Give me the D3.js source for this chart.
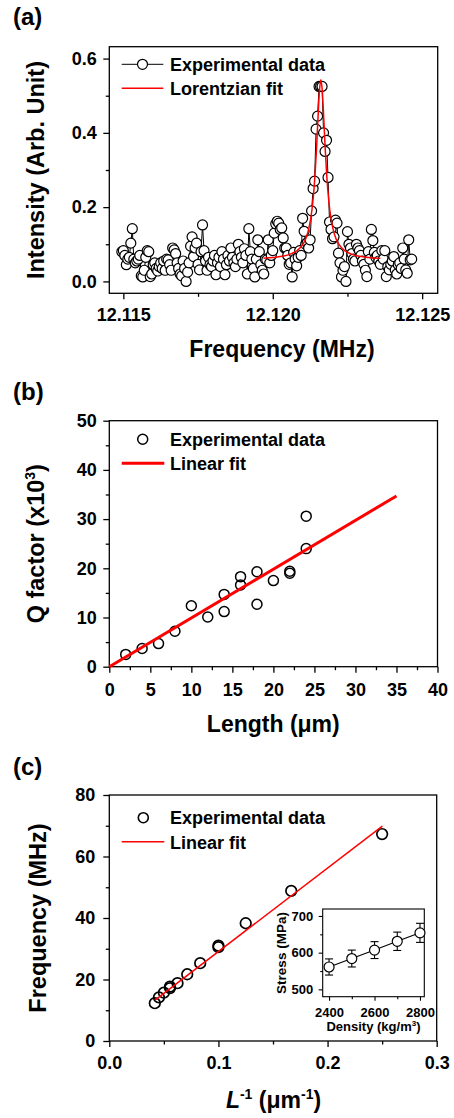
<!DOCTYPE html>
<html><head><meta charset="utf-8">
<script src="https://cdn.jsdelivr.net/npm/d3@7"></script>
<style>
body{margin:0;background:#fff}
text{font-family:"Liberation Sans",Arial,Helvetica,sans-serif;font-weight:bold}
</style>
</head><body>
<svg id="chart" width="454" height="1118"></svg>
<script>
// ---------- Panel (a) data ----------
const freqA = [
12.11495,12.11500,12.11505,12.11510,12.11515,12.11520,12.11525,12.11530,12.11535,12.11540,
12.11545,12.11550,12.11555,12.11560,12.11565,12.11570,12.11575,12.11580,12.11585,12.11590,
12.11595,12.11600,12.11605,12.11610,12.11615,12.11620,12.11625,12.11630,12.11635,12.11640,
12.11645,12.11650,12.11655,12.11660,12.11665,12.11670,12.11675,12.11680,12.11685,12.11690,
12.11695,12.11700,12.11705,12.11710,12.11715,12.11720,12.11725,12.11730,12.11735,12.11740,
12.11745,12.11750,12.11755,12.11760,12.11765,12.11770,12.11775,12.11780,12.11785,12.11790,
12.11795,12.11800,12.11805,12.11810,12.11815,12.11820,12.11825,12.11830,12.11835,12.11840,
12.11845,12.11850,12.11855,12.11860,12.11865,12.11870,12.11875,12.11880,12.11885,12.11890,
12.11895,12.11900,12.11905,12.11910,12.11915,12.11920,12.11925,12.11930,12.11935,12.11940,
12.11945,12.11950,12.11955,12.11960,12.11965,12.11970,12.11975,12.11980,12.11985,12.11990,
12.11995,12.12000,12.12005,12.12010,12.12015,12.12020,12.12025,12.12030,12.12035,12.12040,
12.12045,12.12050,12.12055,12.12060,12.12065,12.12070,12.12075,12.12080,12.12085,12.12090,
12.12095,12.12100,12.12105,12.12110,12.12115,12.12120,12.12125,12.12130,12.12135,12.12140,
12.12145,12.12150,12.12155,12.12160,12.12165,12.12170,12.12175,12.12180,12.12185,12.12190,
12.12195,12.12200,12.12205,12.12210,12.12215,12.12220,12.12225,12.12230,12.12235,12.12240,
12.12245,12.12250,12.12255,12.12260,12.12265,12.12270,12.12275,12.12280,12.12285,12.12290,
12.12295,12.12300,12.12305,12.12310,12.12315,12.12320,12.12325,12.12330,12.12335,12.12340,
12.12345,12.12350,12.12355,12.12360,12.12365,12.12370,12.12375,12.12380,12.12385,12.12390,
12.12395,12.12400,12.12405,12.12410,12.12415,12.12420,12.12425,12.12430,12.12435,12.12440,
12.12445,12.12450,12.12455,12.12460,12.12465];
const intensityA = [
0.080,0.083,0.070,0.045,0.060,0.065,0.103,0.142,0.060,0.050,
0.055,0.060,0.070,0.015,0.012,0.030,0.065,0.083,0.080,0.013,
0.020,0.045,0.050,0.035,0.028,0.040,0.050,0.035,0.055,0.030,
0.060,0.058,0.045,0.030,0.090,0.085,0.075,0.050,0.035,0.020,
0.015,0.055,0.035,0.000,0.025,0.050,0.095,0.120,0.067,0.090,
0.103,0.046,0.031,0.080,0.152,0.083,0.055,0.030,0.065,0.045,
0.040,0.055,0.070,0.018,0.050,0.065,0.040,0.080,0.060,0.018,
0.045,0.070,0.055,0.090,0.065,0.050,0.040,0.060,0.100,0.080,
0.065,0.050,0.088,0.070,0.020,0.142,0.080,0.060,0.035,0.012,
0.060,0.112,0.080,0.045,0.030,0.020,0.060,0.058,0.112,0.050,
0.070,0.083,0.130,0.155,0.162,0.157,0.140,0.144,0.117,0.090,
0.090,0.070,0.046,0.050,0.012,0.078,0.060,0.042,0.065,0.083,
0.070,0.170,0.135,0.100,0.104,0.090,0.112,0.190,0.250,0.270,
0.410,0.445,0.525,0.525,0.525,0.400,0.350,0.380,0.280,0.160,
0.140,0.115,0.120,0.165,0.157,0.076,0.050,0.012,0.030,0.040,
0.000,0.134,0.100,0.090,0.075,0.060,0.055,0.100,0.090,0.083,
0.070,0.055,0.046,0.030,0.013,0.080,0.060,0.140,0.110,0.078,
0.065,0.070,0.055,0.046,0.083,0.060,0.083,0.013,0.040,0.031,
0.046,0.055,0.067,0.031,0.020,0.045,0.050,0.035,0.090,0.060,
0.031,0.022,0.112,0.058,0.060];
const fitFreqA = [12.11969,12.12001,12.12031,12.12061,12.12081,12.12101,12.12111,12.12121,12.12131,12.12136,
  12.12141,12.12146,12.12151,12.12156,12.12161,12.12166,12.12171,12.12176,12.12181,12.12186,
  12.12191,12.12201,12.12211,12.12221,12.12241,12.12261,12.12291,12.12321,12.12360];
const fitIntA = [0.0625,0.0644,0.0676,0.0741,0.0826,0.1001,0.1164,0.1435,0.1916,0.2296,
  0.2816,0.3507,0.4334,0.510,0.543,0.510,0.4334,0.3507,0.2816,0.2296,
  0.1916,0.1435,0.1164,0.1001,0.0826,0.0741,0.0676,0.0644,0.0622];
const xTicksA = [12.115,12.120,12.125], xMinorA = [12.1175,12.1225];
const yTicksA = [0,0.2,0.4,0.6], yMinorA = [0.1,0.3,0.5];

// ---------- Panel (b) data ----------
const lengthB = [2,4,6,8,10,12,14,14,16,16,18,18,20,22,22,24,24];
const qB = [2.5,3.7,4.7,7.2,12.4,10.1,14.7,11.2,16.6,18.3,19.3,12.7,17.5,19.0,19.4,30.6,24.0];
const fitLenB = [0,35], fitQB = [0,34.7];
const xTicksB = [0,5,10,15,20,25,30,35,40], xMinorB = [2.5,7.5,12.5,17.5,22.5,27.5,32.5,37.5];
const yTicksB = [0,10,20,30,40,50], yMinorB = [5,15,25,35,45];

// ---------- Panel (c) data ----------
const invLC = [0.0417,0.0455,0.05,0.0556,0.0556,0.0625,0.0714,0.0833,0.1,0.1,0.125,0.1667,0.25];
const freqC = [12.3,14.2,15.7,17.2,17.7,18.8,21.7,25.3,30.5,31.0,38.3,48.8,67.3];
const fitInvLC = [0.0419,0.2502], fitFreqC = [13.3,69.9];
const xTicksC = [0,0.1,0.2,0.3], xMinorC = [0.05,0.15,0.25];
const yTicksC = [0,20,40,60,80], yMinorC = [10,30,50,70];

// ---------- Inset data ----------
const densityI = [2400,2500,2600,2700,2800];
const stressI = [561,584,607,631,654];
const errI = [22,23,23,25,26];
const xTicksI = [2400,2600,2800], xMinorI = [2500,2700];
const yTicksI = [500,600,700], yMinorI = [550,650];

// ---------- drawing ----------
const svg = d3.select("#chart");
svg.append("rect").attr("width",454).attr("height",1118).attr("fill","#fff");

function drawAxes(x, y, o) {
  const [xa, xb] = x.range(), [ya, yb] = y.range();
  const g = svg.append("g");
  const st = s => {
    s.select(".domain").remove();
    s.attr("font-family", null).attr("font-size", null);
    s.selectAll("line").attr("stroke", "#000").attr("stroke-width", o.sw);
    s.selectAll("text").attr("fill", "#000").attr("font-size", o.fs);
  };
  g.append("g").attr("transform", `translate(0,${ya})`)
    .call(d3.axisBottom(x).tickValues(o.xt).tickSize(o.tl).tickPadding(o.xp).tickFormat(o.xf)).call(st);
  g.append("g").attr("transform", `translate(0,${ya})`)
    .call(d3.axisBottom(x).tickValues(o.xm).tickSize(o.tm).tickFormat("")).call(st);
  g.append("g").attr("transform", `translate(${xa},0)`)
    .call(d3.axisLeft(y).tickValues(o.yt).tickSize(o.tl).tickPadding(o.yp).tickFormat(o.yf)).call(st);
  g.append("g").attr("transform", `translate(${xa},0)`)
    .call(d3.axisLeft(y).tickValues(o.ym).tickSize(o.tm).tickFormat("")).call(st);
  g.append("rect").attr("x", xa).attr("y", yb).attr("width", xb - xa).attr("height", ya - yb)
    .attr("fill", "none").attr("stroke", "#000").attr("stroke-width", o.sw);
}
function label(txt, x, y, size, opts = {}) {
  return svg.append("text").attr("x", x).attr("y", y).attr("font-size", size)
    .attr("text-anchor", opts.anchor || "start").attr("fill", "#000").text(txt);
}
function yTitle(x, y, size) {
  return svg.append("text").attr("transform", `translate(${x},${y}) rotate(-90)`)
    .attr("text-anchor", "middle").attr("font-size", size).attr("fill", "#000");
}

// ===== Panel (a) =====
const xA = d3.scaleLinear().domain([12.11453, 12.12552]).range([109.3, 437.7]);
const yA = d3.scaleLinear().domain([-0.032, 0.632]).range([293.3, 46.7]);
drawAxes(xA, yA, {xt: xTicksA, xm: xMinorA, yt: yTicksA, ym: yMinorA, tl: 6, tm: 3.5, sw: 1.3,
  xp: 8.5, yp: 6.5, fs: 18, xf: d3.format(".3f"), yf: d3.format(".1f")});
const ptsA = freqA.map((f, i) => [f, intensityA[i]]);
svg.append("path").datum(ptsA).attr("fill", "none").attr("stroke", "#000").attr("stroke-width", 1)
  .attr("d", d3.line().x(d => xA(d[0])).y(d => yA(d[1])));
svg.append("g").selectAll("circle").data(ptsA).join("circle")
  .attr("cx", d => xA(d[0])).attr("cy", d => yA(d[1])).attr("r", 5)
  .attr("fill", "#fff").attr("stroke", "#000").attr("stroke-width", 1.2);
svg.append("path").datum(fitFreqA.map((f, i) => [f, fitIntA[i]])).attr("fill", "none")
  .attr("stroke", "#ff0000").attr("stroke-width", 1.5)
  .attr("d", d3.line().curve(d3.curveMonotoneX).x(d => xA(d[0])).y(d => yA(d[1])));
// legend a
svg.append("line").attr("x1", 121.7).attr("x2", 163.3).attr("y1", 64.3).attr("y2", 64.3).attr("stroke", "#000").attr("stroke-width", 1);
svg.append("circle").attr("cx", 142.5).attr("cy", 64.3).attr("r", 5).attr("fill", "#fff").attr("stroke", "#000").attr("stroke-width", 1.2);
label("Experimental data", 170, 70.7, 18);
svg.append("line").attr("x1", 121.7).attr("x2", 163.3).attr("y1", 88.3).attr("y2", 88.3).attr("stroke", "#ff0000").attr("stroke-width", 1.5);
label("Lorentzian fit", 170, 95, 18);
label("(a)", 13, 25, 24);
label("Frequency (MHz)", 282, 357.3, 23, {anchor: "middle"});
yTitle(44, 170, 23.5).text("Intensity (Arb. Unit)");

// ===== Panel (b) =====
const xB = d3.scaleLinear().domain([0, 40]).range([109.3, 437.5]);
const yB = d3.scaleLinear().domain([0, 50]).range([666.7, 420.7]);
drawAxes(xB, yB, {xt: xTicksB, xm: xMinorB, yt: yTicksB, ym: yMinorB, tl: 6, tm: 3.5, sw: 1.3,
  xp: 10.5, yp: 6.5, fs: 18, xf: d3.format("d"), yf: d3.format("d")});
svg.append("g").selectAll("circle").data(lengthB.map((l, i) => [l, qB[i]])).join("circle")
  .attr("cx", d => xB(d[0])).attr("cy", d => yB(d[1])).attr("r", 5)
  .attr("fill", "none").attr("stroke", "#000").attr("stroke-width", 1.5);
svg.append("path").datum(fitLenB.map((l, i) => [l, fitQB[i]])).attr("fill", "none")
  .attr("stroke", "#ff0000").attr("stroke-width", 3)
  .attr("d", d3.line().x(d => xB(d[0])).y(d => yB(d[1])));
svg.append("circle").attr("cx", 142.7).attr("cy", 439.3).attr("r", 5).attr("fill", "none").attr("stroke", "#000").attr("stroke-width", 1.5);
label("Experimental data", 170, 446, 18);
svg.append("line").attr("x1", 121.7).attr("x2", 164.3).attr("y1", 463.3).attr("y2", 463.3).attr("stroke", "#ff0000").attr("stroke-width", 3);
label("Linear fit", 170, 470, 18);
label("(b)", 13, 400, 24);
label("Length (\u03bcm)", 273.3, 732, 23, {anchor: "middle"});
{
  const t = yTitle(44, 543.7, 23.5);
  t.append("tspan").text("Q factor (x10");
  t.append("tspan").attr("font-size", 14).attr("dy", -9).text("3");
  t.append("tspan").attr("dy", 9).text(")");
}

// ===== Panel (c) =====
const xC = d3.scaleLinear().domain([0, 0.3]).range([109.3, 436.7]);
const yC = d3.scaleLinear().domain([0, 80]).range([1041, 795]);
drawAxes(xC, yC, {xt: xTicksC, xm: xMinorC, yt: yTicksC, ym: yMinorC, tl: 6, tm: 3.5, sw: 1.3,
  xp: 9.5, yp: 8, fs: 18, xf: d3.format(".1f"), yf: d3.format("d")});
svg.append("g").selectAll("circle").data(invLC.map((v, i) => [v, freqC[i]])).join("circle")
  .attr("cx", d => xC(d[0])).attr("cy", d => yC(d[1])).attr("r", 5.3)
  .attr("fill", "none").attr("stroke", "#000").attr("stroke-width", 1.7);
svg.append("path").datum(fitInvLC.map((v, i) => [v, fitFreqC[i]])).attr("fill", "none")
  .attr("stroke", "#ff0000").attr("stroke-width", 1.5)
  .attr("d", d3.line().x(d => xC(d[0])).y(d => yC(d[1])));
svg.append("circle").attr("cx", 143.3).attr("cy", 817.7).attr("r", 5).attr("fill", "none").attr("stroke", "#000").attr("stroke-width", 1.6);
label("Experimental data", 170, 824, 18);
svg.append("line").attr("x1", 121.7).attr("x2", 164.3).attr("y1", 841.7).attr("y2", 841.7).attr("stroke", "#ff0000").attr("stroke-width", 1.5);
label("Linear fit", 170, 849, 18);
label("(c)", 13, 775, 24);
{
  const t = svg.append("text").attr("x", 273.5).attr("y", 1108).attr("text-anchor", "middle").attr("font-size", 23).attr("fill", "#000");
  t.append("tspan").attr("font-style", "italic").text("L");
  t.append("tspan").attr("font-size", 14).attr("dy", -9).text("-1");
  t.append("tspan").attr("dy", 9).text(" (\u03bcm");
  t.append("tspan").attr("font-size", 14).attr("dy", -9).text("-1");
  t.append("tspan").attr("dy", 9).text(")");
}
yTitle(46, 918, 23.5).text("Frequency (MHz)");

// ===== Inset =====
const xI = d3.scaleLinear().domain([2372, 2819]).range([322.7, 424.3]);
const yI = d3.scaleLinear().domain([480, 719]).range([996.7, 909]);
svg.append("rect").attr("x", 322.7).attr("y", 909).attr("width", 101.6).attr("height", 87.7).attr("fill", "#fff");
drawAxes(xI, yI, {xt: xTicksI, xm: xMinorI, yt: yTicksI, ym: yMinorI, tl: 4, tm: 2.5, sw: 1.1,
  xp: 7, yp: 5.5, fs: 13, xf: d3.format("d"), yf: d3.format("d")});
const ptsI = densityI.map((d, i) => [d, stressI[i], errI[i]]);
const eb = svg.append("g").attr("stroke", "#000").attr("stroke-width", 1.1);
ptsI.forEach(d => {
  const cx = xI(d[0]);
  eb.append("line").attr("x1", cx).attr("x2", cx).attr("y1", yI(d[1] - d[2])).attr("y2", yI(d[1] + d[2]));
  eb.append("line").attr("x1", cx - 4).attr("x2", cx + 4).attr("y1", yI(d[1] - d[2])).attr("y2", yI(d[1] - d[2]));
  eb.append("line").attr("x1", cx - 4).attr("x2", cx + 4).attr("y1", yI(d[1] + d[2])).attr("y2", yI(d[1] + d[2]));
});
svg.append("path").datum(ptsI).attr("fill", "none").attr("stroke", "#000").attr("stroke-width", 1.1)
  .attr("d", d3.line().x(d => xI(d[0])).y(d => yI(d[1])));
svg.append("g").selectAll("circle").data(ptsI).join("circle")
  .attr("cx", d => xI(d[0])).attr("cy", d => yI(d[1])).attr("r", 5)
  .attr("fill", "#fff").attr("stroke", "#000").attr("stroke-width", 1.2);
{
  const t = svg.append("text").attr("x", 373.5).attr("y", 1031).attr("text-anchor", "middle").attr("font-size", 13).attr("fill", "#000");
  t.append("tspan").text("Density (kg/m");
  t.append("tspan").attr("font-size", 8).attr("dy", -5).text("3");
  t.append("tspan").attr("dy", 5).text(")");
}
yTitle(286, 953, 13.5).text("Stress (MPa)");
</script>
</body></html>
